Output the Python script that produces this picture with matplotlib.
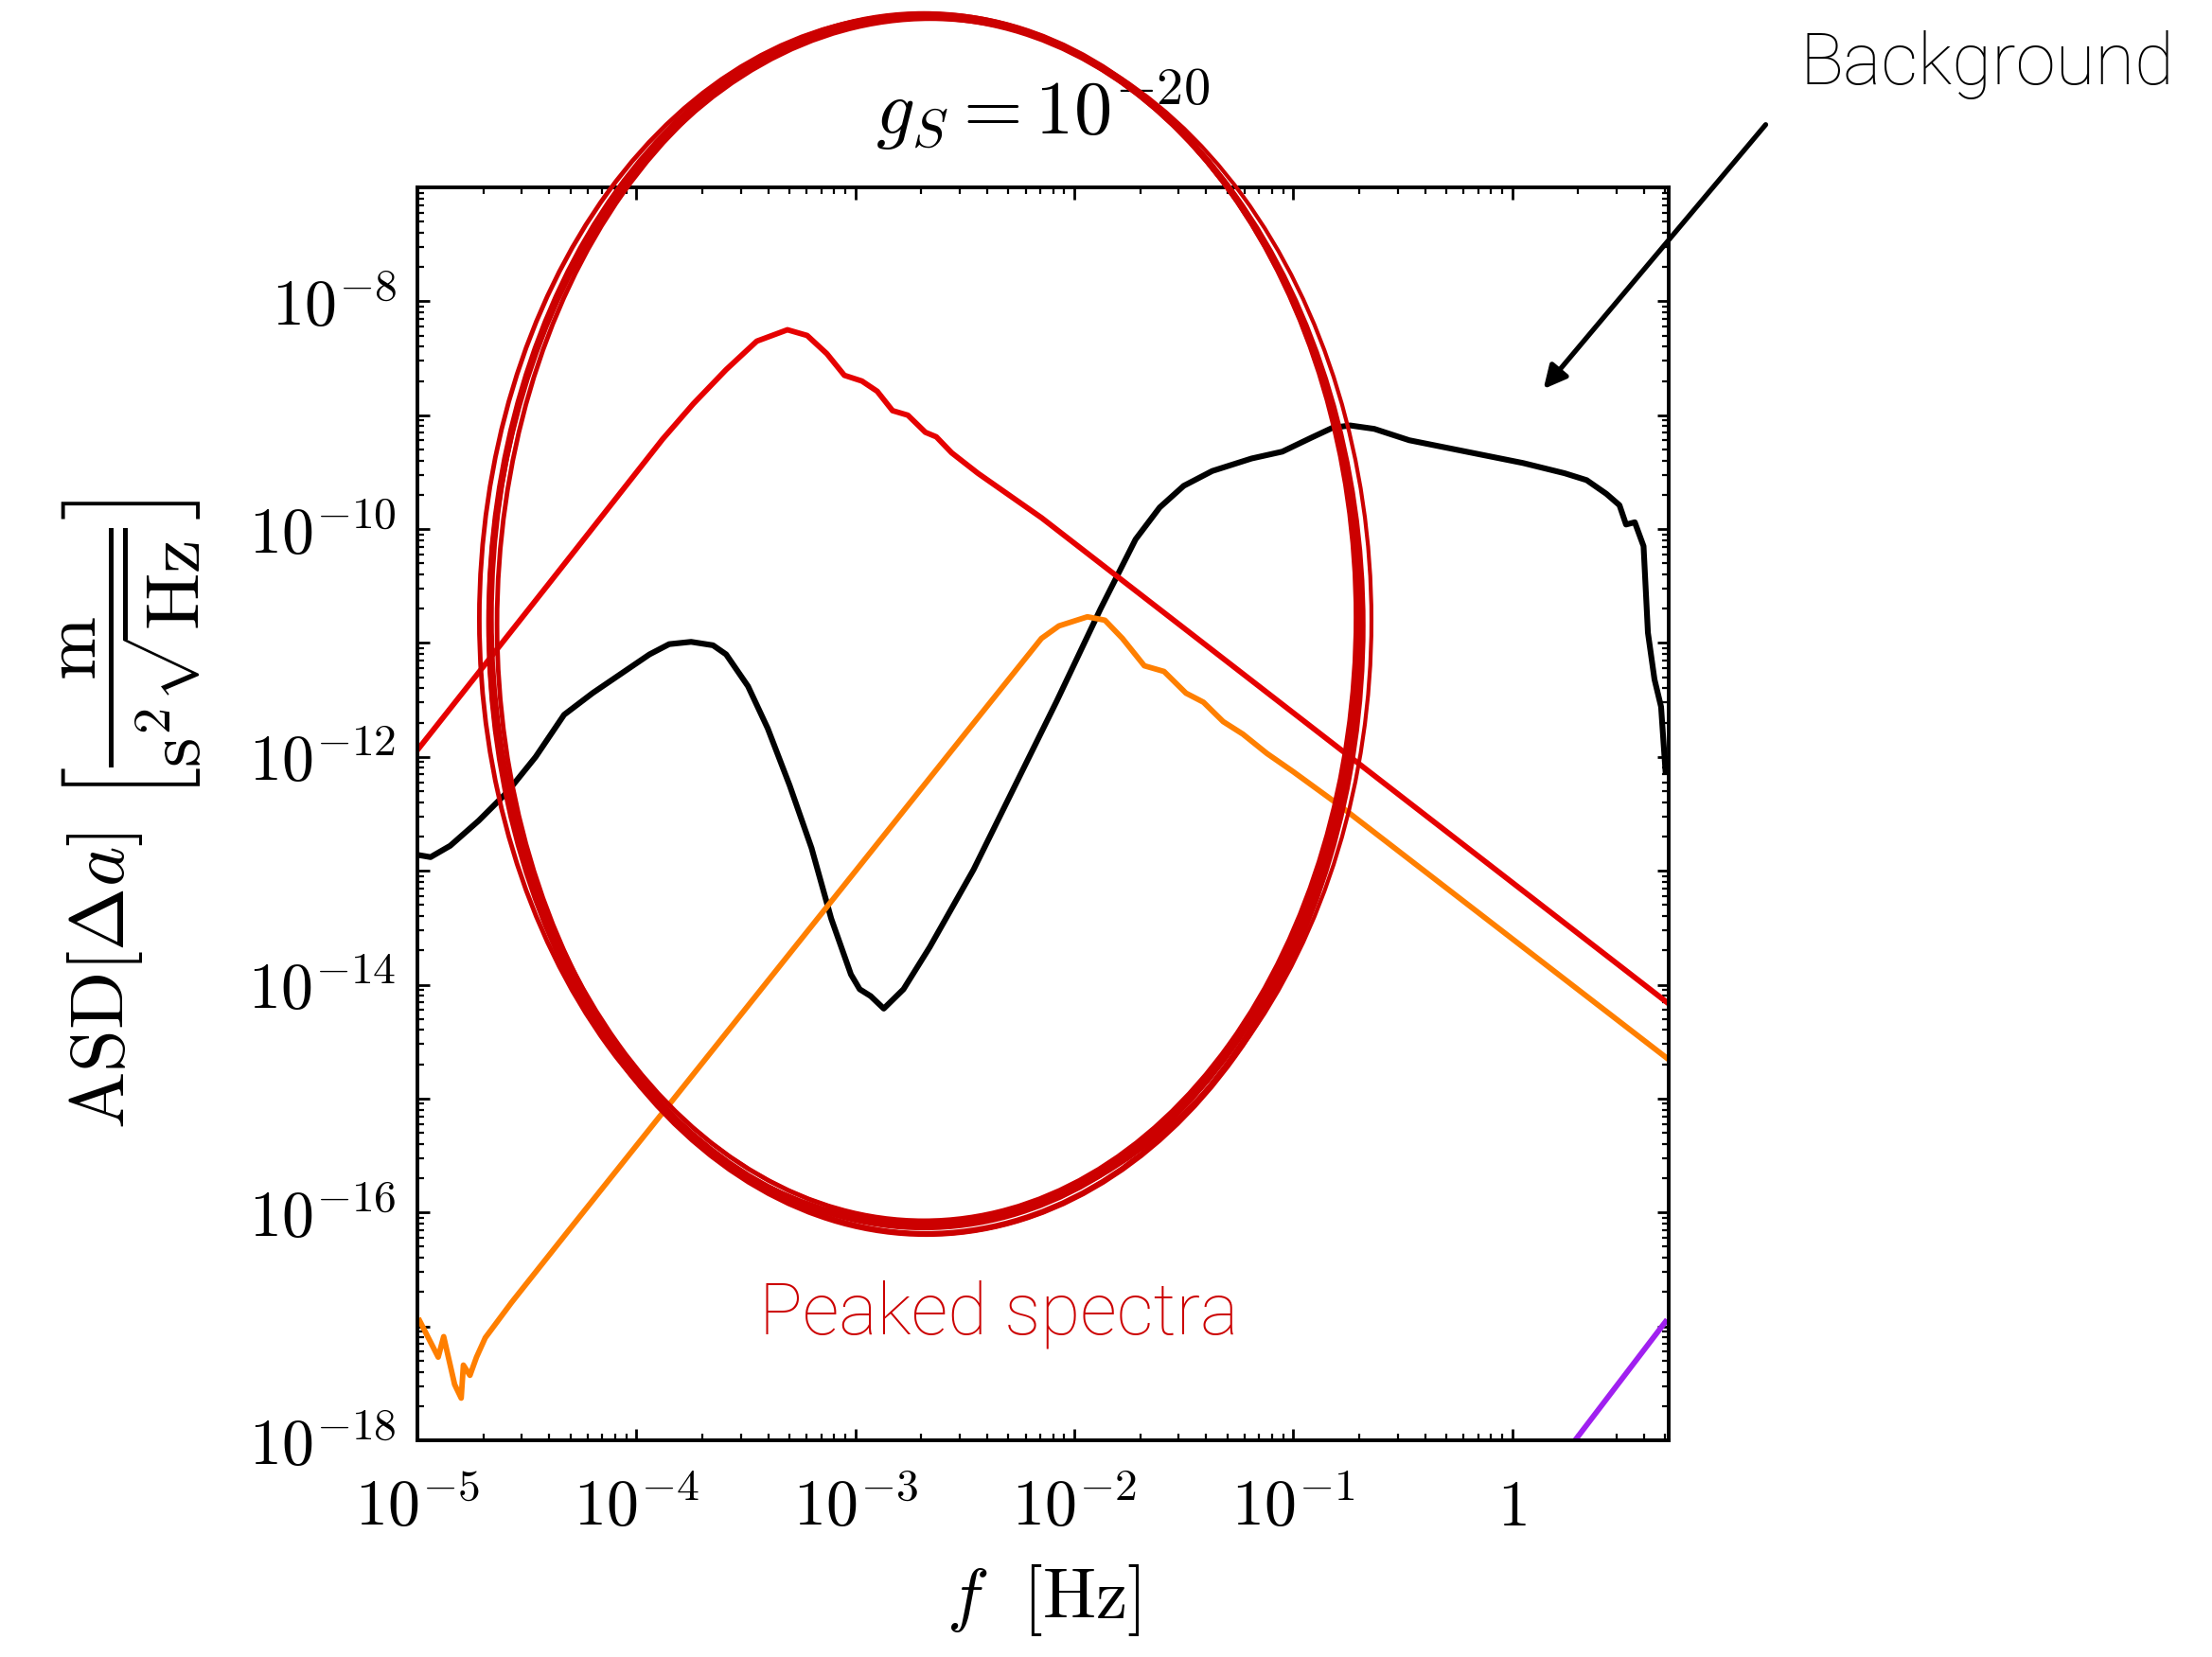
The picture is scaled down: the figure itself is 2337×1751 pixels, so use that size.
import numpy as np
import matplotlib
matplotlib.use("Agg")
import matplotlib.pyplot as plt
from matplotlib.patches import Ellipse
from matplotlib.ticker import LogLocator, FuncFormatter, NullFormatter

plt.rcParams["mathtext.fontset"] = "cm"
plt.rcParams["font.family"] = "serif"
plt.rcParams["font.serif"] = ["DejaVu Serif"]

# -----------------------------
# data (log10 values)
# -----------------------------
bg_logf = [-5.00, -4.94, -4.85, -4.72, -4.59, -4.46, -4.33, -4.20, -4.07, -3.94,
           -3.85, -3.75, -3.65, -3.59, -3.49, -3.40, -3.30, -3.20, -3.11, -3.02,
           -2.98, -2.93, -2.87, -2.78, -2.66, -2.46, -2.27, -2.08, -1.88, -1.72,
           -1.61, -1.50, -1.37, -1.19, -1.05, -0.92, -0.82, -0.74, -0.63, -0.47,
           -0.21, 0.05, 0.24, 0.34, 0.43, 0.49, 0.52, 0.56, 0.60, 0.62,
           0.65, 0.68, 0.70]
bg_logasd = [-12.86, -12.88, -12.78, -12.56, -12.31, -12.00, -11.63, -11.44, -11.27, -11.10,
             -11.01, -10.99, -11.02, -11.10, -11.38, -11.75, -12.25, -12.80, -13.42, -13.91,
             -14.04, -14.10, -14.21, -14.04, -13.67, -12.99, -12.25, -11.51, -10.70, -10.09,
             -9.81, -9.62, -9.49, -9.38, -9.32, -9.20, -9.11, -9.09, -9.12, -9.22,
             -9.32, -9.42, -9.51, -9.57, -9.69, -9.79, -9.96, -9.94, -10.15, -10.91,
             -11.32, -11.56, -12.12]

red_logf = [-5.00, -4.40, -3.88, -3.74, -3.59, -3.45, -3.31, -3.22, -3.13, -3.05,
            -2.97, -2.90, -2.83, -2.76, -2.68, -2.63, -2.56, -2.44, -2.15, 0.71]
red_logasd = [-11.94, -10.48, -9.21, -8.90, -8.60, -8.35, -8.25, -8.30, -8.46, -8.65,
              -8.70, -8.79, -8.96, -9.00, -9.15, -9.19, -9.33, -9.51, -9.90, -14.16]

orange_logf = [-4.99, -4.905, -4.88, -4.83, -4.80, -4.79, -4.76, -4.73, -4.69, -4.57,
               -4.31, -2.50, -2.15, -2.07, -1.94, -1.86, -1.78, -1.68, -1.59, -1.49,
               -1.41, -1.32, -1.23, -1.12, -1.00, -0.80, 0.71]
orange_logasd = [-16.95, -17.27, -17.09, -17.51, -17.63, -17.34, -17.43, -17.27, -17.10, -16.79,
                 -16.16, -11.80, -10.96, -10.85, -10.77, -10.80, -10.96, -11.20, -11.25, -11.44,
                 -11.52, -11.69, -11.80, -11.97, -12.13, -12.41, -14.65]

purple_logf = [0.20, 0.70]
purple_logasd = [-18.22, -16.96]

# -----------------------------
# figure
# -----------------------------
fig = plt.figure(figsize=(23.37, 17.51), dpi=100)
ax = fig.add_axes([0.1887, 0.1308, 0.5657, 0.7561])

ax.plot(10**np.array(bg_logf), 10**np.array(bg_logasd), color="black", lw=4.4)
ax.plot(10**np.array(red_logf), 10**np.array(red_logasd), color="#e60000", lw=4.2)
ax.plot(10**np.array(orange_logf), 10**np.array(orange_logasd), color="#ff7f00", lw=4.2)
ax.plot(10**np.array(purple_logf), 10**np.array(purple_logasd), color="#a020f0", lw=4.2)

ax.set_xscale("log")
ax.set_yscale("log")
ax.set_xlim(1e-5, 10**0.715)
ax.set_ylim(1e-18, 1e-7)

ax.xaxis.set_major_locator(LogLocator(base=10, numticks=20))
ax.xaxis.set_minor_locator(LogLocator(base=10, subs=np.arange(2, 10), numticks=100))
ax.yaxis.set_major_locator(LogLocator(base=10, numticks=30))
ax.yaxis.set_minor_locator(LogLocator(base=10, subs=np.arange(2, 10), numticks=200))


def xfmt(v, pos):
    e = int(round(np.log10(v)))
    if e == 0:
        return r"$1$"
    return r"$10^{%d}$" % e


def yfmt(v, pos):
    e = int(round(np.log10(v)))
    if e % 2:
        return ""
    return r"$10^{%d}$" % e


ax.xaxis.set_major_formatter(FuncFormatter(xfmt))
ax.yaxis.set_major_formatter(FuncFormatter(yfmt))
ax.xaxis.set_minor_formatter(NullFormatter())
ax.yaxis.set_minor_formatter(NullFormatter())

ax.tick_params(which="both", direction="in", top=True, right=True, labelsize=49)
ax.tick_params(which="major", length=9, width=2)
ax.tick_params(which="minor", length=5, width=1.6)
ax.tick_params(axis="x", pad=28)
ax.tick_params(axis="y", pad=16)
for s in ax.spines.values():
    s.set_linewidth(2.8)

ax.set_xlabel(r"$f\ \ [\mathrm{Hz}]$", fontsize=54, labelpad=18)
ax.set_ylabel(r"$\mathrm{ASD}[\Delta a]\ \left[\dfrac{\mathrm{m}}{\mathrm{s}^2\sqrt{\mathrm{Hz}}}\right]$",
              fontsize=58, labelpad=34)
ax.set_title(r"$g_S = 10^{-20}$", fontsize=58, pad=40)

# -----------------------------
# annotations
# -----------------------------
fig.text(0.8985, 0.982, "Background", family="Roboto", weight="light", fontsize=55,
         color="black", ha="center", va="top")
fig.text(0.4515, 0.207, "Peaked spectra", family="Roboto", weight="light", fontsize=55,
         color="#cc0000", ha="center", va="center")
fig.add_artist(plt.Annotation("", xy=(0.697, 0.764), xytext=(0.799, 0.926),
                              xycoords="figure fraction", textcoords="figure fraction",
                              arrowprops=dict(arrowstyle="-|>", color="black", lw=3.8,
                                              mutation_scale=36)))

# hand-drawn looking ellipse: a few slightly offset strokes
for dx, dy, dw, dh, lw in [(0.0, 0.0, 0.0, 0.0, 4.5), (0.002, -0.002, -0.003, 0.004, 3.5),
                           (-0.002, 0.001, 0.005, -0.003, 3.5), (0.001, -0.003, 0.002, 0.002, 4.5),
                           (0.0, 0.002, -0.002, -0.004, 3.5), (0.003, 0.0, 0.006, -0.006, 3)]:
    fig.add_artist(Ellipse((0.4176 + dx, 0.6254 + dy), 0.3928 + dw, 0.7322 + dh,
                           transform=fig.transFigure, fill=False, edgecolor="#cc0000",
                           lw=lw, zorder=10))

fig.savefig("out.png", dpi=100)
